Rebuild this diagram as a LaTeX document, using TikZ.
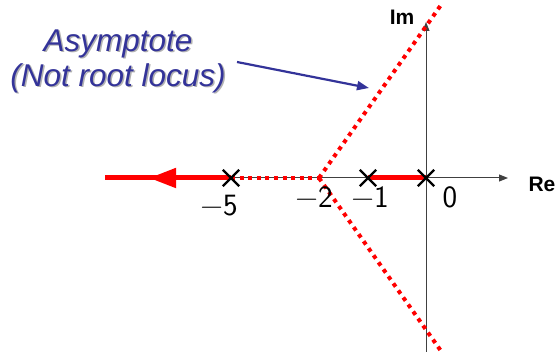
\documentclass[tikz,border=0pt]{standalone}
\usepackage{fontspec}
\setsansfont{Liberation Sans}
\newfontfamily\lmsans{Latin Modern Sans}
\usetikzlibrary{arrows.meta,shapes.misc,decorations.markings}
\definecolor{labblue}{HTML}{333399}
\tikzset{
  axis/.style={draw=black!75,line width=1pt,-{Triangle[length=9pt,width=7pt]}},
  locus/.style={draw=red,line width=5pt},
  asym/.style={draw=red,line width=4pt,dash pattern=on 4pt off 4.6pt},
  pole/.style={cross out,draw=black,line width=2.4pt,minimum size=14pt,inner sep=0pt},
  num/.style={font=\lmsans\fontsize{31}{31}\selectfont,inner sep=0pt},
  axlab/.style={font=\sffamily\bfseries\fontsize{21}{21}\selectfont},
  note/.style={font=\sffamily\itshape\fontsize{31.5}{35}\selectfont,text=labblue,align=center},
  shadow/.style={font=\sffamily\itshape\fontsize{31.5}{35}\selectfont,text=black!30,align=center}
}
\begin{document}
\begin{tikzpicture}[x=1pt,y=-1pt]
\useasboundingbox (0,0) rectangle (559,352);
% coordinates
\coordinate (o) at (426,178);
\coordinate (p5) at (231,178);
\coordinate (p1) at (368,178);
\coordinate (c) at (319,178);
\coordinate (left) at (105,178);
\coordinate (reend) at (508,178);
\coordinate (imtop) at (426,22);
\coordinate (imbot) at (426,352);
\coordinate (aup) at (441,5);
\coordinate (adn) at (441,351);
% axes
\draw[axis] (left) -- (reend);
\draw[axis] (imbot) -- (imtop);
% asymptotes
\draw[asym] (p5) -- (c);
\draw[asym] (c) -- (aup);
\draw[asym] (c) -- (adn);
% root locus
\draw[locus,postaction={decorate},decoration={markings,mark=at position 0.65 with {\arrow{Triangle[length=27pt,width=19pt]}}}] (p5) -- (left);
\draw[locus] (p1) -- (o);
% poles
\node[pole] (n5) at (p5) {};
\node[pole] (n1) at (p1) {};
\node[pole] (n0) at (o) {};
% numbers
\node[num,anchor=base] (l5) at (219,216) {−5};
\node[num,anchor=base] (l2) at (314,208) {−2};
\node[num,anchor=base] (l1) at (370,208) {−1};
\node[num,anchor=base] (l0) at (450,208) {0};
% axis labels
\node[axlab] (im) at (402,17) {Im};
\node[axlab] (re) at (542,184) {Re};
% annotation
\node[shadow] at (119.5,62.5) {Asymptote\\(Not root locus)};
\node[note] (note) at (118,61) {Asymptote\\(Not root locus)};
\coordinate (ns) at (237,62);
\coordinate (ne) at (369,88);
\draw[draw=labblue,line width=2.2pt,-{Triangle[length=12pt,width=9pt]}] (ns) -- (ne);
\end{tikzpicture}
\end{document}
